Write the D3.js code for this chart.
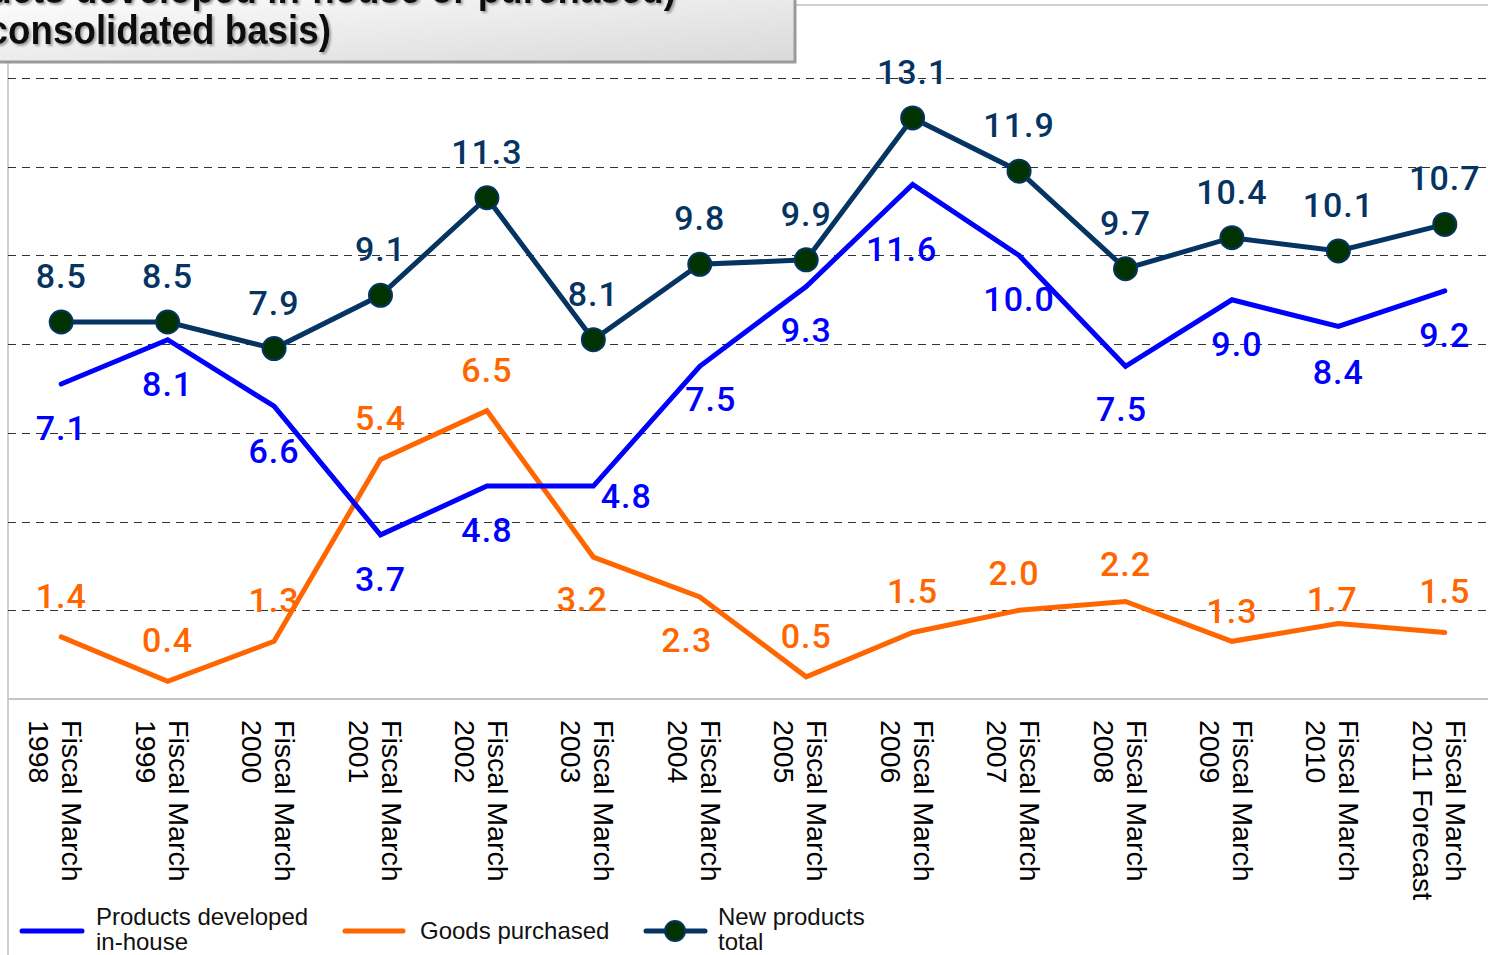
<!DOCTYPE html>
<html>
<head>
<meta charset="utf-8">
<script src="https://cdn.jsdelivr.net/npm/d3@7"></script>
<style>
    body { margin: 0; background: #fff; overflow: hidden; }
    .dataLabel { font-family: Roboto, "Noto Sans", sans-serif; font-size: 34px; font-weight: 500; letter-spacing: 1px; }
    .tickLabel { font-family: "Liberation Sans", Arial, sans-serif; font-size: 28.5px; fill: #000; }
    .legendText { font-family: "Liberation Sans", Arial, sans-serif; font-size: 24px; fill: #111; }
    .titleText { font-family: "Liberation Sans", Arial, sans-serif; font-weight: bold; font-size: 40px; fill: #111; }
</style>
</head>
<body>
<script>
//wrap everything in an anonymous function so nothing leaks to global scope
(function () {

    //chart data
    var years = ["1998", "1999", "2000", "2001", "2002", "2003", "2004", "2005", "2006", "2007", "2008", "2009", "2010", "2011 Forecast"];
    var inHouse = [7.1, 8.1, 6.6, 3.7, 4.8, 4.8, 7.5, 9.3, 11.6, 10.0, 7.5, 9.0, 8.4, 9.2];
    var purchased = [1.4, 0.4, 1.3, 5.4, 6.5, 3.2, 2.3, 0.5, 1.5, 2.0, 2.2, 1.3, 1.7, 1.5];
    var total = [8.5, 8.5, 7.9, 9.1, 11.3, 8.1, 9.8, 9.9, 13.1, 11.9, 9.7, 10.4, 10.1, 10.7];
    var gridValues = [2, 4, 6, 8, 10, 12, 14];

    //label nudges (layout only): [dx, dy] relative to the point
    var inHouseNudge = { "2003": [33, 22], "2004": [11, 45], "2006": [-11, 77], "2008": [-4, 55], "2009": [5, 56], "2000": [0, 57], "2010": [0, 58] };
    var purchasedNudge = { "2003": [-11, 54], "2004": [-13, 55], "2007": [-5, -25], "2008": [0, -25], "2009": [0, -18], "2010": [-6, -13] };

    var width = 1488,
        height = 955;

    var svg = d3.select("body")
        .append("svg")
        .attr("width", width)
        .attr("height", height);

    //scales
    var x = d3.scaleBand()
        .domain(years)
        .range([8, 1498])
        .padding(0);

    var y = d3.scaleLinear()
        .domain([0, 14])
        .range([699, 78]);

    function cx(d, i) {
        return x(years[i]) + x.bandwidth() / 2;
    }

    //plot area borders
    svg.append("line")
        .attr("x1", 8).attr("x2", 8)
        .attr("y1", 62).attr("y2", height)
        .style("stroke", "#cfcfcf")
        .style("stroke-width", 2);

    svg.append("line")
        .attr("x1", 790).attr("x2", width)
        .attr("y1", 5).attr("y2", 5)
        .style("stroke", "#cfcfcf")
        .style("stroke-width", 2);

    //dashed gridlines
    svg.selectAll(".grid")
        .data(gridValues)
        .enter()
        .append("line")
        .attr("class", "grid")
        .attr("x1", 8)
        .attr("x2", width)
        .attr("y1", function (d) { return Math.round(y(d)) + 0.5; })
        .attr("y2", function (d) { return Math.round(y(d)) + 0.5; })
        .style("stroke", "#333")
        .style("stroke-width", 1.2)
        .style("stroke-dasharray", "8,6");

    //x axis line at zero
    svg.append("line")
        .attr("x1", 8).attr("x2", width)
        .attr("y1", y(0)).attr("y2", y(0))
        .style("stroke", "#c4c4c4")
        .style("stroke-width", 2);

    //category labels, rotated
    var ticks = svg.selectAll(".tick")
        .data(years)
        .enter()
        .append("text")
        .attr("class", "tickLabel")
        .attr("transform", function (d) {
            return "translate(" + (x(d) + x.bandwidth() / 2 + 1) + ",720) rotate(90)";
        });
    ticks.append("tspan")
        .attr("x", 0)
        .attr("y", 0)
        .text("Fiscal March");
    ticks.append("tspan")
        .attr("x", 0)
        .attr("y", 33)
        .text(function (d) { return d; });

    var line = d3.line()
        .x(cx)
        .y(function (d) { return y(d); });

    //series lines
    svg.append("path")
        .datum(purchased)
        .attr("d", line)
        .style("fill", "none")
        .style("stroke", "#ff6600")
        .style("stroke-width", 5)
        .style("stroke-linecap", "round");

    svg.append("path")
        .datum(inHouse)
        .attr("d", line)
        .style("fill", "none")
        .style("stroke", "#0000ff")
        .style("stroke-width", 5)
        .style("stroke-linecap", "round");

    svg.append("path")
        .datum(total)
        .attr("d", line)
        .style("fill", "none")
        .style("stroke", "#063462")
        .style("stroke-width", 5)
        .style("stroke-linecap", "round");

    svg.selectAll(".marker")
        .data(total)
        .enter()
        .append("circle")
        .attr("class", "marker")
        .attr("cx", cx)
        .attr("cy", function (d) { return y(d); })
        .attr("r", 11.5)
        .style("fill", "#003300")
        .style("stroke", "#063462")
        .style("stroke-width", 2);

    //data labels
    function addLabels(data, color, nudge, defaultDy) {
        svg.selectAll(null)
            .data(data)
            .enter()
            .append("text")
            .attr("class", "dataLabel")
            .attr("text-anchor", "middle")
            .attr("x", function (d, i) {
                var n = nudge[years[i]];
                return cx(d, i) + (n ? n[0] : 0);
            })
            .attr("y", function (d, i) {
                var n = nudge[years[i]];
                return y(d) + (n ? n[1] : defaultDy);
            })
            .style("fill", color)
            .text(function (d) { return d3.format(".1f")(d); });
    }

    addLabels(purchased, "#ff6600", purchasedNudge, -29);
    addLabels(inHouse, "#0000ff", inHouseNudge, 56);
    addLabels(total, "#063462", {}, -34);

    //legend
    var legend = svg.append("g");

    legend.append("line")
        .attr("x1", 22).attr("x2", 82)
        .attr("y1", 931).attr("y2", 931)
        .style("stroke", "#0000ff")
        .style("stroke-width", 5)
        .style("stroke-linecap", "round");
    var t1 = legend.append("text").attr("class", "legendText");
    t1.append("tspan").attr("x", 96).attr("y", 925).text("Products developed");
    t1.append("tspan").attr("x", 96).attr("y", 950).text("in-house");

    legend.append("line")
        .attr("x1", 345).attr("x2", 403)
        .attr("y1", 931).attr("y2", 931)
        .style("stroke", "#ff6600")
        .style("stroke-width", 5)
        .style("stroke-linecap", "round");
    legend.append("text")
        .attr("class", "legendText")
        .attr("x", 420)
        .attr("y", 939)
        .text("Goods purchased");

    legend.append("line")
        .attr("x1", 646).attr("x2", 705)
        .attr("y1", 931).attr("y2", 931)
        .style("stroke", "#063462")
        .style("stroke-width", 5)
        .style("stroke-linecap", "round");
    legend.append("circle")
        .attr("cx", 675).attr("cy", 931)
        .attr("r", 10)
        .style("fill", "#003300")
        .style("stroke", "#063462")
        .style("stroke-width", 2);
    var t3 = legend.append("text").attr("class", "legendText");
    t3.append("tspan").attr("x", 718).attr("y", 925).text("New products");
    t3.append("tspan").attr("x", 718).attr("y", 950).text("total");

    //title box (cut by the top-left corner of the page)
    var defs = svg.append("defs");
    var grad = defs.append("linearGradient")
        .attr("id", "titleGrad")
        .attr("x1", "0").attr("y1", "0")
        .attr("x2", "1").attr("y2", "1");
    grad.append("stop").attr("offset", "0%").attr("stop-color", "#ffffff");
    grad.append("stop").attr("offset", "100%").attr("stop-color", "#d9d9d9");

    var shadow = defs.append("filter").attr("id", "txtShadow");
    shadow.append("feDropShadow")
        .attr("dx", 2).attr("dy", 2)
        .attr("stdDeviation", 1)
        .attr("flood-color", "#888")
        .attr("flood-opacity", 0.8);

    svg.append("rect")
        .attr("x", -10).attr("y", -10)
        .attr("width", 805).attr("height", 72)
        .style("fill", "url(#titleGrad)")
        .style("stroke", "#9a9a9a")
        .style("stroke-width", 3);

    //condensed title text
    var squeeze = 0.92;
    var title = svg.append("g")
        .attr("transform", "scale(" + squeeze + ",1)")
        .attr("filter", "url(#txtShadow)");

    title.append("text")
        .attr("class", "titleText")
        .attr("text-anchor", "end")
        .attr("x", 676 / squeeze)
        .attr("y", 3)
        .text("New products (products developed in-house or purchased)");

    title.append("text")
        .attr("class", "titleText")
        .attr("text-anchor", "end")
        .attr("x", 331 / squeeze)
        .attr("y", 44)
        .text("(consolidated basis)");

})();
</script>
</body>
</html>
